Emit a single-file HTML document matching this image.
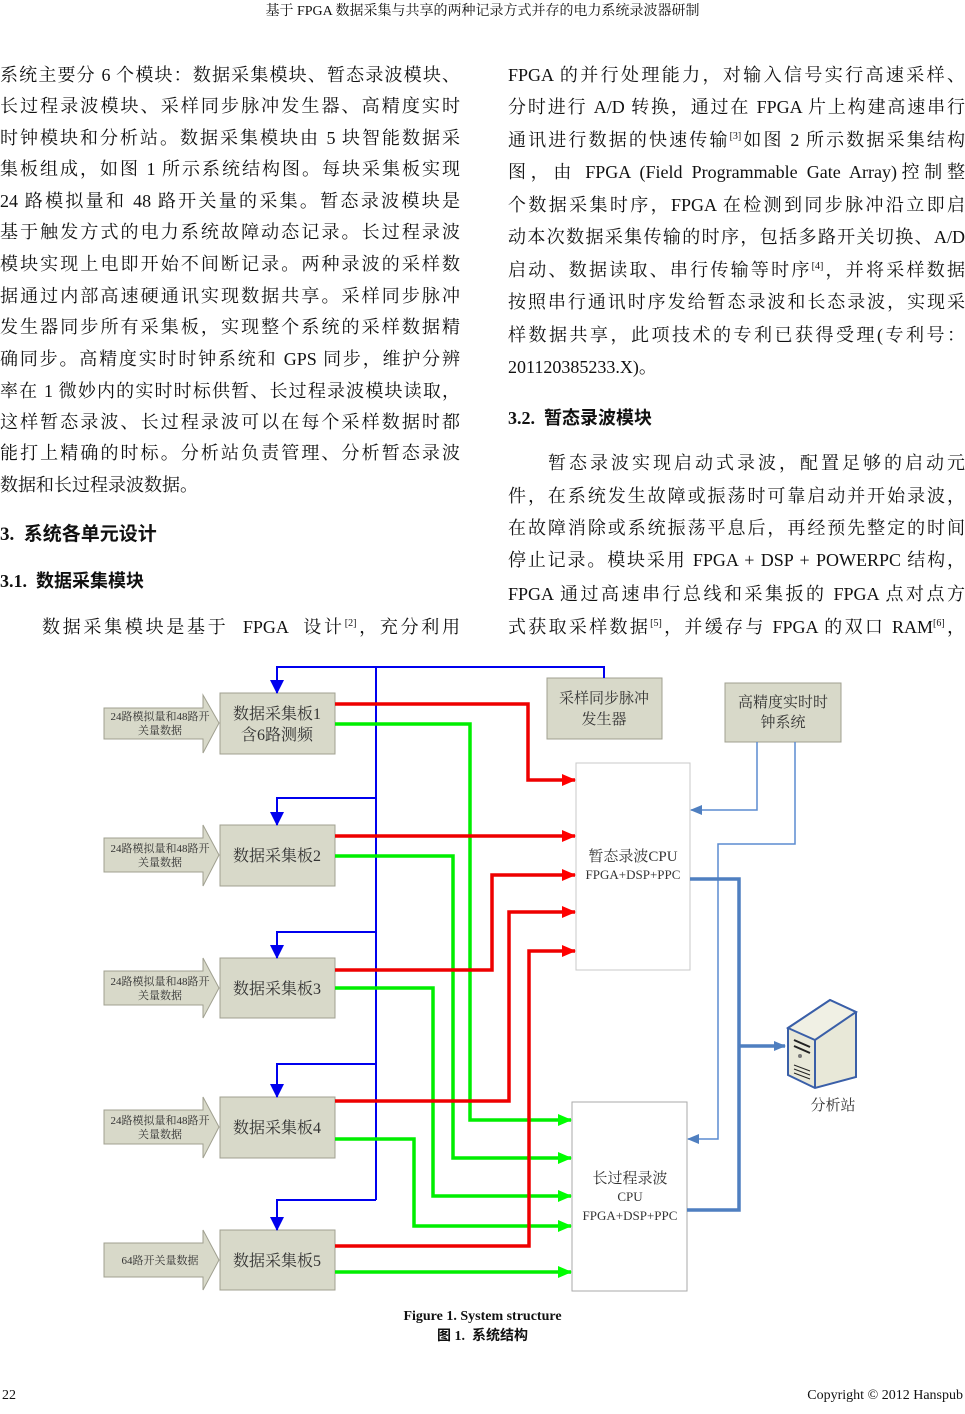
<!DOCTYPE html>
<html><head><meta charset="utf-8"><style>
html,body{margin:0;padding:0;background:#fff;}
body{width:965px;height:1414px;position:relative;overflow:hidden;font-family:"Liberation Serif","Noto Serif CJK SC",serif;color:#111;}
.l{position:absolute;font-size:18px;height:24px;line-height:24px;white-space:nowrap;}
.j{text-align:justify;text-align-last:justify;}
.L{left:0;width:460px;}
.R{left:508px;width:457px;}
sup{font-size:10px;line-height:0;vertical-align:7px;}
.h{position:absolute;font-weight:bold;font-size:19px;font-family:"Liberation Serif","Noto Sans CJK SC",serif;white-space:nowrap;}
svg{position:absolute;left:0;top:0;}
</style></head><body>
<div class="l" style="left:0;width:965px;top:0;font-size:14px;text-align:center;">基于 FPGA 数据采集与共享的两种记录方式并存的电力系统录波器研制</div>

<div class="l L j" style="top:63px">系统主要分 6 个模块：数据采集模块、暂态录波模块、</div>
<div class="l L j" style="top:94px">长过程录波模块、采样同步脉冲发生器、高精度实时</div>
<div class="l L j" style="top:126px">时钟模块和分析站。数据采集模块由 5 块智能数据采</div>
<div class="l L j" style="top:157px">集板组成，如图 1 所示系统结构图。每块采集板实现</div>
<div class="l L j" style="top:189px">24 路模拟量和 48 路开关量的采集。暂态录波模块是</div>
<div class="l L j" style="top:220px">基于触发方式的电力系统故障动态记录。长过程录波</div>
<div class="l L j" style="top:252px">模块实现上电即开始不间断记录。两种录波的采样数</div>
<div class="l L j" style="top:284px">据通过内部高速硬通讯实现数据共享。采样同步脉冲</div>
<div class="l L j" style="top:315px">发生器同步所有采集板，实现整个系统的采样数据精</div>
<div class="l L j" style="top:347px">确同步。高精度实时时钟系统和 GPS 同步，维护分辨</div>
<div class="l L j" style="top:379px">率在 1 微妙内的实时时标供暂、长过程录波模块读取，</div>
<div class="l L j" style="top:410px">这样暂态录波、长过程录波可以在每个采样数据时都</div>
<div class="l L j" style="top:441px">能打上精确的时标。分析站负责管理、分析暂态录波</div>
<div class="l L" style="top:473px">数据和长过程录波数据。</div>
<div class="h" style="left:0;top:519px">3.&nbsp; 系统各单元设计</div>
<div class="h" style="left:0;top:567px;font-size:18px">3.1.&nbsp; 数据采集模块</div>
<div class="l j" style="left:42px;width:418px;top:615px">数据采集模块是基于 &nbsp;FPGA&nbsp; 设计<sup>[2]</sup>，充分利用</div>

<div class="l R j" style="top:63px">FPGA 的并行处理能力，对输入信号实行高速采样、</div>
<div class="l R j" style="top:95px">分时进行 A/D 转换，通过在 FPGA 片上构建高速串行</div>
<div class="l R j" style="top:128px">通讯进行数据的快速传输<sup>[3]</sup>如图 2 所示数据采集结构</div>
<div class="l R j" style="top:160px">图，由 FPGA (Field Programmable Gate Array)控制整</div>
<div class="l R j" style="top:193px">个数据采集时序，FPGA 在检测到同步脉冲沿立即启</div>
<div class="l R j" style="top:225px">动本次数据采集传输的时序，包括多路开关切换、A/D</div>
<div class="l R j" style="top:258px">启动、数据读取、串行传输等时序<sup>[4]</sup>，并将采样数据</div>
<div class="l R j" style="top:290px">按照串行通讯时序发给暂态录波和长态录波，实现采</div>
<div class="l R j" style="top:323px">样数据共享，此项技术的专利已获得受理(专利号：</div>
<div class="l R" style="top:355px">201120385233.X)。</div>
<div class="h" style="left:508px;top:404px;font-size:18px">3.2.&nbsp; 暂态录波模块</div>
<div class="l j" style="left:548px;width:417px;top:451px">暂态录波实现启动式录波，配置足够的启动元</div>
<div class="l R j" style="top:484px">件，在系统发生故障或振荡时可靠启动并开始录波，</div>
<div class="l R j" style="top:516px">在故障消除或系统振荡平息后，再经预先整定的时间</div>
<div class="l R j" style="top:548px">停止记录。模块采用 FPGA + DSP + POWERPC 结构，</div>
<div class="l R j" style="top:582px">FPGA 通过高速串行总线和采集扳的 FPGA 点对点方</div>
<div class="l R j" style="top:615px">式获取采样数据<sup>[5]</sup>，并缓存与 FPGA 的双口 RAM<sup>[6]</sup>，</div>

<svg width="965" height="1414" viewBox="0 0 965 1414" font-family="Liberation Serif, Noto Serif CJK SC, serif">
<defs>
<marker id="ar" markerWidth="14" markerHeight="12" refX="13" refY="6" orient="auto" markerUnits="userSpaceOnUse"><path d="M0,0L14,6L0,12z" fill="#f00"/></marker>
<marker id="ag" markerWidth="14" markerHeight="12" refX="13" refY="6" orient="auto" markerUnits="userSpaceOnUse"><path d="M0,0L14,6L0,12z" fill="#0f0"/></marker>
<marker id="ab" markerWidth="14" markerHeight="14" refX="13" refY="7" orient="auto" markerUnits="userSpaceOnUse"><path d="M0,0L14,7L0,14z" fill="#0000ee"/></marker>
<marker id="al" markerWidth="12" markerHeight="10" refX="11" refY="5" orient="auto" markerUnits="userSpaceOnUse"><path d="M0,0L12,5L0,10z" fill="#4f7fc0"/></marker>
</defs>
<g fill="#d8d9c9" stroke="#a0a090" stroke-width="1">
<path d="M104,708H203V695L219,723L203,753V739H104Z"/>
<path d="M104,838H203V825L219,855L203,886V872H104Z"/>
<path d="M104,971H203V958L219,988L203,1018V1005H104Z"/>
<path d="M104,1110H203V1097L219,1127L203,1158V1144H104Z"/>
<path d="M104,1243H203V1230L219,1260L203,1290V1277H104Z"/>
<rect x="220" y="693" width="115" height="61"/>
<rect x="220" y="825" width="115" height="61"/>
<rect x="220" y="958" width="115" height="60"/>
<rect x="220" y="1097" width="115" height="61"/>
<rect x="220" y="1230" width="115" height="60"/>
<rect x="547" y="678" width="115" height="61"/>
<rect x="725" y="683" width="116" height="59"/>
</g>
<g fill="#fff" stroke="#c8c8c8"><rect x="576" y="763" width="114" height="207"/><rect x="572" y="1102" width="115" height="189" stroke="#aaa"/></g>
<g font-size="11" fill="#333" text-anchor="middle">
<text x="160" y="720">24路模拟量和48路开</text><text x="160" y="734">关量数据</text>
<text x="160" y="852">24路模拟量和48路开</text><text x="160" y="866">关量数据</text>
<text x="160" y="985">24路模拟量和48路开</text><text x="160" y="999">关量数据</text>
<text x="160" y="1124">24路模拟量和48路开</text><text x="160" y="1138">关量数据</text>
<text x="160" y="1264">64路开关量数据</text>
</g>
<g font-size="16" fill="#333" text-anchor="middle">
<text x="277" y="719">数据采集板1</text><text x="277" y="740">含6路测频</text>
<text x="277" y="861">数据采集板2</text>
<text x="277" y="994">数据采集板3</text>
<text x="277" y="1133">数据采集板4</text>
<text x="277" y="1266">数据采集板5</text>
<text x="604" y="703" font-size="15">采样同步脉冲</text><text x="604" y="724" font-size="15">发生器</text>
<text x="783" y="707" font-size="15">高精度实时时</text><text x="783" y="727" font-size="15">钟系统</text>
<text x="633" y="861" font-size="15">暂态录波CPU</text><text x="633" y="879" font-size="13">FPGA+DSP+PPC</text>
<text x="630" y="1183" font-size="15">长过程录波</text><text x="630" y="1201" font-size="13">CPU</text><text x="630" y="1220" font-size="13">FPGA+DSP+PPC</text>
<text x="833" y="1110" font-size="15">分析站</text>
</g>
<!-- blue bus -->
<g stroke="#0000ee" stroke-width="2" fill="none">
<path d="M604,678V667H277V693" marker-end="url(#ab)"/>
<path d="M376,667V1200"/>
<path d="M376,798H277V825" marker-end="url(#ab)"/>
<path d="M376,932H277V958" marker-end="url(#ab)"/>
<path d="M376,1064H277V1097" marker-end="url(#ab)"/>
<path d="M376,1200H277V1230" marker-end="url(#ab)"/>
</g>
<!-- green -->
<g stroke="#00ee00" stroke-width="3.5" fill="none">
<path d="M335,724H470V1120H571" marker-end="url(#ag)"/>
<path d="M335,856H453V1158H571" marker-end="url(#ag)"/>
<path d="M335,988H433V1196H571" marker-end="url(#ag)"/>
<path d="M335,1139H414V1226H571" marker-end="url(#ag)"/>
<path d="M335,1272H571" marker-end="url(#ag)"/>
</g>
<!-- red -->
<g stroke="#ee0000" stroke-width="3.5" fill="none">
<path d="M335,704H528V780H575" marker-end="url(#ar)"/>
<path d="M335,836H575" marker-end="url(#ar)"/>
<path d="M335,970H492V875H575" marker-end="url(#ar)"/>
<path d="M335,1101H509V912H575" marker-end="url(#ar)"/>
<path d="M335,1246H529V951H575" marker-end="url(#ar)"/>
</g>
<!-- clock thin lines -->
<g stroke="#5b8bd0" stroke-width="1.5" fill="none">
<path d="M757,742V810H691" marker-end="url(#al)"/>
<path d="M795,742V844H718V1139H688" marker-end="url(#al)"/>
</g>
<g stroke="#4f7fc0" stroke-width="3.5" fill="none">
<path d="M690,879H739V1210H687"/>
<path d="M739,1046H785" marker-end="url(#al)"/>
</g>
<!-- server -->
<g stroke="#3a5fa8" stroke-width="2">
<path d="M788,1028L830,1000L856,1012L856,1077L815,1088L788,1075Z" fill="#e8e8d8"/>
<path d="M788,1028L830,1000L856,1012L815,1040Z" fill="#f0f0e4"/>
<path d="M815,1040V1088M856,1012V1077" fill="none"/>
</g>
<g stroke="#222" stroke-width="2"><path d="M794,1040L810,1047M794,1046L810,1053"/><path d="M794,1065L810,1071M794,1069L810,1075M794,1073L810,1079" stroke-width="1"/></g>
<circle cx="800" cy="1056" r="2" fill="#777"/>
</svg>

<div class="l" style="left:0;width:965px;top:1305px;font-size:14px;font-weight:bold;text-align:center;">Figure 1. System structure</div>
<div class="l" style="left:0;width:965px;top:1325px;font-size:14px;font-weight:bold;text-align:center;font-family:'Liberation Serif','Noto Sans CJK SC',serif;">图 1.&nbsp; 系统结构</div>
<div class="l" style="left:2px;top:1384px;font-size:14px;">22</div>
<div class="l" style="right:2px;top:1384px;font-size:14px;">Copyright © 2012 Hanspub</div>
</body></html>
